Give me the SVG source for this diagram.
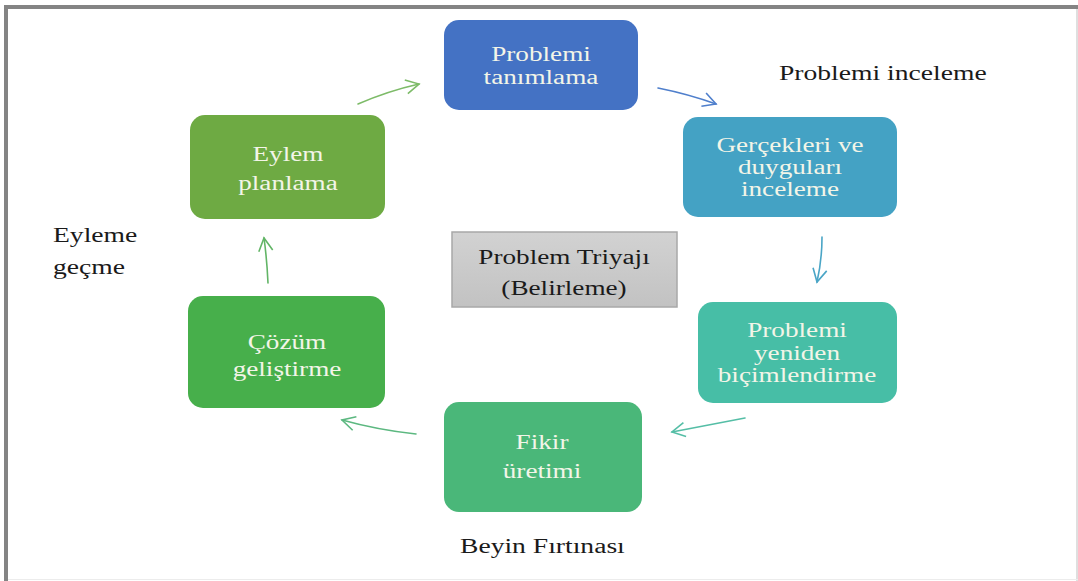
<svg xmlns="http://www.w3.org/2000/svg" width="1078" height="581" viewBox="0 0 1078 581">
  <style>
    .node-text { font-family: "Liberation Serif", "Times New Roman", serif; font-size: 20px; fill: #f3f5e8; text-anchor: middle; }
    .label { font-family: "Liberation Serif", "Times New Roman", serif; font-size: 20px; fill: #1a1a1a; }
    .center-text { font-family: "Liberation Serif", "Times New Roman", serif; font-size: 20px; fill: #1a1a1a; text-anchor: middle; }
    .conn { fill: none; stroke-width: 1.6; stroke-linecap: round; }
  </style>
  <defs>
    <linearGradient id="grayFill" x1="0" y1="0" x2="0" y2="1">
      <stop offset="0" stop-color="#d2d2d2"/>
      <stop offset="1" stop-color="#c2c2c2"/>
    </linearGradient>
    <marker id="headGreenLight" viewBox="0 0 16 16" refX="14" refY="8" markerWidth="16" markerHeight="16" markerUnits="userSpaceOnUse" orient="auto">
      <path d="M1,1 L14,8 L1,15" fill="none" stroke="#7dbb68" stroke-width="1.6"/>
    </marker>
    <marker id="headBlue" viewBox="0 0 16 16" refX="14" refY="8" markerWidth="16" markerHeight="16" markerUnits="userSpaceOnUse" orient="auto">
      <path d="M1,1 L14,8 L1,15" fill="none" stroke="#4f7fcc" stroke-width="1.6"/>
    </marker>
    <marker id="headTeal" viewBox="0 0 16 16" refX="14" refY="8" markerWidth="16" markerHeight="16" markerUnits="userSpaceOnUse" orient="auto">
      <path d="M1,1 L14,8 L1,15" fill="none" stroke="#4aa5c6" stroke-width="1.6"/>
    </marker>
    <marker id="headTealGreen" viewBox="0 0 16 16" refX="14" refY="8" markerWidth="16" markerHeight="16" markerUnits="userSpaceOnUse" orient="auto">
      <path d="M1,1 L14,8 L1,15" fill="none" stroke="#55bea6" stroke-width="1.6"/>
    </marker>
    <marker id="headGreenMid" viewBox="0 0 16 16" refX="14" refY="8" markerWidth="16" markerHeight="16" markerUnits="userSpaceOnUse" orient="auto">
      <path d="M1,1 L14,8 L1,15" fill="none" stroke="#5cb880" stroke-width="1.6"/>
    </marker>
    <marker id="headGreen" viewBox="0 0 16 16" refX="14" refY="8" markerWidth="16" markerHeight="16" markerUnits="userSpaceOnUse" orient="auto">
      <path d="M1,1 L14,8 L1,15" fill="none" stroke="#62b566" stroke-width="1.6"/>
    </marker>
  </defs>

  <!-- page background and frame -->
  <rect x="0" y="0" width="1078" height="581" fill="#ffffff"/>
  <line x1="4" y1="7" x2="1078" y2="7" stroke="#848484" stroke-width="4"/>
  <line x1="6" y1="5" x2="6" y2="581" stroke="#848484" stroke-width="4"/>
  <line x1="1077" y1="9" x2="1077" y2="581" stroke="#d4d4d4" stroke-width="1.5"/>
  <line x1="8" y1="579.5" x2="1078" y2="579.5" stroke="#ececec" stroke-width="1"/>

  <!-- connectors -->
  <g id="connectors">
    <path class="conn" stroke="#7dbb68" d="M358,104 Q388,91 419,84" marker-end="url(#headGreenLight)"/>
    <path class="conn" stroke="#4f7fcc" d="M658,88 Q688,94 716,104" marker-end="url(#headBlue)"/>
    <path class="conn" stroke="#4aa5c6" d="M822,237 Q822,260 817,282" marker-end="url(#headTeal)"/>
    <path class="conn" stroke="#55bea6" d="M745,418 Q708,425 672,432" marker-end="url(#headTealGreen)"/>
    <path class="conn" stroke="#5cb880" d="M416,434 Q378,430 342,420" marker-end="url(#headGreenMid)"/>
    <path class="conn" stroke="#62b566" d="M268,283 Q267,260 264,238" marker-end="url(#headGreen)"/>
  </g>

  <!-- cycle steps -->
  <g id="node-problemi-tanimlama">
    <rect x="444" y="20" width="194" height="90" rx="15" fill="#4472c4"/>
    <g transform="translate(541,0) scale(1.36,1)">
      <text class="node-text" x="0" y="61">Problemi</text>
      <text class="node-text" x="0" y="84">tanımlama</text>
    </g>
  </g>

  <g id="node-gercekleri">
    <rect x="683" y="117" width="214" height="100" rx="15" fill="#44a2c4"/>
    <g transform="translate(790,0) scale(1.36,1)">
      <text class="node-text" x="0" y="152">Gerçekleri ve</text>
      <text class="node-text" x="0" y="174">duyguları</text>
      <text class="node-text" x="0" y="196">inceleme</text>
    </g>
  </g>

  <g id="node-yeniden-bicimlendirme">
    <rect x="698" y="302" width="199" height="101" rx="15" fill="#47bea6"/>
    <g transform="translate(797,0) scale(1.36,1)">
      <text class="node-text" x="0" y="337">Problemi</text>
      <text class="node-text" x="0" y="360">yeniden</text>
      <text class="node-text" x="0" y="382">biçimlendirme</text>
    </g>
  </g>

  <g id="node-fikir-uretimi">
    <rect x="444" y="402" width="198" height="110" rx="15" fill="#4ab779"/>
    <g transform="translate(542,0) scale(1.36,1)">
      <text class="node-text" x="0" y="449">Fikir</text>
      <text class="node-text" x="0" y="478">üretimi</text>
    </g>
  </g>

  <g id="node-cozum-gelistirme">
    <rect x="188" y="296" width="197" height="112" rx="15" fill="#47af4b"/>
    <g transform="translate(287,0) scale(1.36,1)">
      <text class="node-text" x="0" y="349">Çözüm</text>
      <text class="node-text" x="0" y="376">geliştirme</text>
    </g>
  </g>

  <g id="node-eylem-planlama">
    <rect x="190" y="115" width="195" height="104" rx="15" fill="#6eaa43"/>
    <g transform="translate(288,0) scale(1.36,1)">
      <text class="node-text" x="0" y="161">Eylem</text>
      <text class="node-text" x="0" y="190">planlama</text>
    </g>
  </g>

  <!-- central box -->
  <g id="node-problem-triyaji">
    <rect x="452" y="232" width="225" height="75" fill="url(#grayFill)" stroke="#a8a8a8" stroke-width="1.5"/>
    <g transform="translate(564,0) scale(1.36,1)">
      <text class="center-text" x="0" y="264">Problem Triyajı</text>
      <text class="center-text" x="0" y="295">(Belirleme)</text>
    </g>
  </g>

  <!-- phase labels -->
  <g id="label-problemi-inceleme" transform="translate(779,0) scale(1.38,1)">
    <text class="label" x="0" y="80">Problemi inceleme</text>
  </g>
  <g id="label-eyleme-gecme" transform="translate(53,0) scale(1.38,1)">
    <text class="label" x="0" y="242">Eyleme</text>
    <text class="label" x="0" y="274">geçme</text>
  </g>
  <g id="label-beyin-firtinasi" transform="translate(460,0) scale(1.38,1)">
    <text class="label" x="0" y="553">Beyin Fırtınası</text>
  </g>
</svg>
